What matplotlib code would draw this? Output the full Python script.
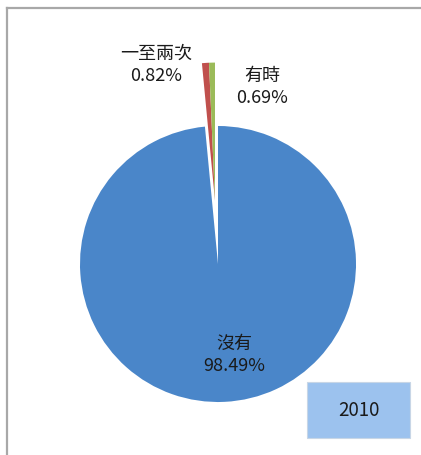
#!/usr/bin/env python3
"""Pie chart of answer shares, 2010."""

import math

import matplotlib
matplotlib.use("Agg")
import matplotlib.pyplot as plt
from matplotlib.patches import Rectangle

labels = ["沒有", "一至兩次", "有時"]
shares = [98.49, 0.82, 0.69]
colors = ["#4a86c9", "#c0504d", "#9bbb59"]
pulled_out = [False, True, True]
year = "2010"

plt.rcParams["font.family"] = ["Noto Sans CJK TC", "DejaVu Sans"]

W, H = 421, 456
fig = plt.figure(figsize=(W / 100, H / 100), dpi=100)
ax = fig.add_axes([0, 0, 1, 1])

cx, cy, r = 218, H - 265, 138
wedges, _ = ax.pie(shares, colors=colors, startangle=90, counterclock=False,
                   center=(cx, cy), radius=r, frame=True,
                   wedgeprops=dict(linewidth=0))

# pull the small slices out together along their common bisector
grp = [w for w, p in zip(wedges, pulled_out) if p]
ang = math.radians((min(w.theta1 for w in grp) + max(w.theta2 for w in grp)) / 2)
dist = 0.46 * r
for w in grp:
    w.set_center((cx + dist * math.cos(ang), cy + dist * math.sin(ang)))

ax.set_xlim(0, W)
ax.set_ylim(0, H)
ax.set_aspect("equal")
ax.axis("off")

# slice labels
pos = {"沒有": (234, H - 355), "一至兩次": (156, H - 65), "有時": (262, H - 87)}
for name, val in zip(labels, shares):
    x, y = pos[name]
    ax.text(x, y, f"{name}\n{val:.2f}%", ha="center", va="center",
            fontsize=13, color="#1a1a1a", linespacing=1.3)

# year box
ax.add_patch(Rectangle((307, H - 439), 103, 56, facecolor="#9cc2ee",
                       edgecolor="#c8d6e6", linewidth=0.8))
ax.text(358.5, H - 411, year, ha="center", va="center", fontsize=13.5, color="#1a1a1a")

# frame lines
ax.plot([7, 7], [0, H - 9], color="#a8a8a8", lw=1.6)
ax.plot([7, W], [H - 9, H - 9], color="#a8a8a8", lw=1.6)

fig.savefig("out.png", dpi=100)
plt.close(fig)
